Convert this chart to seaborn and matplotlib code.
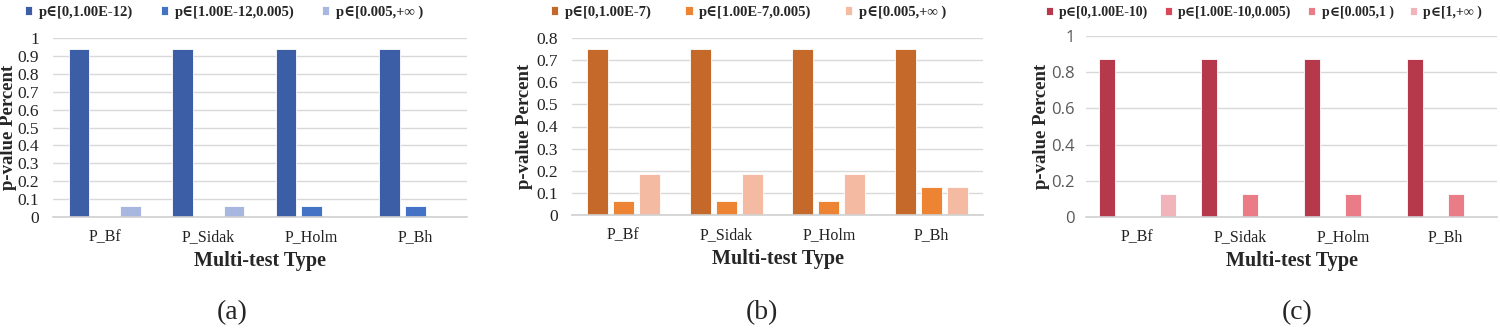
import numpy as np
import pandas as pd
import matplotlib
matplotlib.use("Agg")
import matplotlib.pyplot as plt
import seaborn as sns

# ---------------- data ----------------
methods = ["P_Bf", "P_Sidak", "P_Holm", "P_Bh"]

a_labels = ["p\u2208[0,1.00E-12)", "p\u2208[1.00E-12,0.005)", "p\u2208[0.005,+\u221e )"]
a_s1 = [0.9375, 0.9375, 0.9375, 0.9375]
a_s2 = [0.0, 0.0, 0.0625, 0.0625]
a_s3 = [0.0625, 0.0625, 0.0, 0.0]

b_labels = ["p\u2208[0,1.00E-7)", "p\u2208[1.00E-7,0.005)", "p\u2208[0.005,+\u221e )"]
b_s1 = [0.75, 0.75, 0.75, 0.75]
b_s2 = [0.0625, 0.0625, 0.0625, 0.125]
b_s3 = [0.1875, 0.1875, 0.1875, 0.125]

c_labels = ["p\u2208[0,1.00E-10)", "p\u2208[1.00E-10,0.005)", "p\u2208[0.005,1 )", "p\u2208[1,+\u221e )"]
c_s1 = [0.875, 0.875, 0.875, 0.875]
c_s2 = [0.0, 0.0, 0.0, 0.0]
c_s3 = [0.0, 0.125, 0.125, 0.125]
c_s4 = [0.125, 0.0, 0.0, 0.0]

a_colors = ["#3B5EA6", "#4472C4", "#A8B7E0"]
b_colors = ["#C5692A", "#ED8434", "#F4BAA2"]
c_colors = ["#B5394A", "#D9485A", "#E97C86", "#F0B4BA"]

yticks_a = [0, 0.1, 0.2, 0.3, 0.4, 0.5, 0.6, 0.7, 0.8, 0.9, 1]
yticks_b = [0, 0.1, 0.2, 0.3, 0.4, 0.5, 0.6, 0.7, 0.8]
yticks_c = [0, 0.2, 0.4, 0.6, 0.8, 1]


def long_df(labels, series):
    rows = []
    for lab, vals in zip(labels, series):
        for m, v in zip(methods, vals):
            rows.append({"method": m, "range": lab, "value": v})
    return pd.DataFrame(rows)


sns.set_theme(style="white")
plt.rcParams["font.family"] = ["Liberation Serif", "DejaVu Serif"]

W, H = 1500, 329
fig = plt.figure(figsize=(W / 100, H / 100), dpi=100)


def px_axes(left, right, top, bottom):
    return fig.add_axes([left / W, 1 - bottom / H, (right - left) / W, (bottom - top) / H])


serif_bold = dict(family=["Liberation Serif", "DejaVu Serif"], weight="bold")

panels = [
    dict(box=(53, 467, 38, 217), labels=a_labels, series=[a_s1, a_s2, a_s3], colors=a_colors,
         yticks=yticks_a, ylim=(0, 1), width=0.75, gap=0.2, yfont="serif", ylab_x=-0.087,
         leg_x=25, colsp=1.9, legsize=10.5, tag="(a)", tag_x=232),
    dict(box=(572, 983, 38, 215), labels=b_labels, series=[b_s1, b_s2, b_s3], colors=b_colors,
         yticks=yticks_b, ylim=(0, 0.8), width=0.76, gap=0.2, yfont="serif", ylab_x=-0.095,
         leg_x=551, colsp=2.3, legsize=10.5, tag="(b)", tag_x=762),
    dict(box=(1086, 1497, 36, 217), labels=c_labels, series=[c_s1, c_s2, c_s3, c_s4], colors=c_colors,
         yticks=yticks_c, ylim=(0, 1), width=0.8, gap=0.22, yfont="sans", ylab_x=-0.088,
         leg_x=1046, colsp=1.2, legsize=10, tag="(c)", tag_x=1297),
]

for p in panels:
    left, right, top, bottom = p["box"]
    ax = px_axes(left, right, top, bottom)
    df = long_df(p["labels"], p["series"])
    sns.barplot(data=df, x="method", y="value", hue="range", hue_order=p["labels"],
                palette=p["colors"], saturation=1, width=p["width"], gap=p["gap"], ax=ax,
                edgecolor="white", linewidth=0.6, errorbar=None, legend=True)
    ax.set_xlim(-0.5, 3.5)
    ax.set_ylim(*p["ylim"])
    ax.set_yticks(p["yticks"])
    ax.set_yticklabels([("%g" % t) for t in p["yticks"]])
    ax.grid(axis="y", color="#D9D9D9", linewidth=1.0)
    ax.set_axisbelow(True)
    for s in ["top", "right", "left"]:
        ax.spines[s].set_visible(False)
    ax.spines["bottom"].set_color("#D0D0D0")
    ax.spines["bottom"].set_linewidth(1.2)
    ax.tick_params(axis="both", length=0)
    ax.tick_params(axis="x", pad=9, labelsize=11.5, labelcolor="#222222")
    if p["yfont"] == "serif":
        ax.tick_params(axis="y", pad=10, labelsize=12.5, labelcolor="#222222")
    else:
        ax.tick_params(axis="y", pad=8, labelsize=12, labelcolor="#595959")
        for t in ax.get_yticklabels():
            t.set_fontfamily(["Open Sans", "DejaVu Sans"])
    ax.set_xlabel("Multi-test Type", fontsize=14.5, **serif_bold)
    ax.xaxis.set_label_coords(0.5, -0.19)
    ax.xaxis.label.set_va("top")
    ax.set_ylabel("p-value Percent", fontsize=13.5, **serif_bold)
    ax.yaxis.set_label_coords(p["ylab_x"], 0.5)

    handles, labs = ax.get_legend_handles_labels()
    ax.get_legend().remove()
    fig.legend(handles, labs, loc="center left", bbox_to_anchor=(p["leg_x"] / W, 1 - 12 / H),
               ncol=len(labs), frameon=False, handlelength=0.5, handleheight=0.5,
               handletextpad=0.45, columnspacing=p["colsp"], borderpad=0, borderaxespad=0,
               prop=dict(family=["Liberation Serif", "DejaVu Serif"], weight="bold",
                         size=p["legsize"]))

    fig.text(p["tag_x"] / W, 1 - 313 / H, p["tag"], ha="center", va="center",
             fontsize=20, family=["Liberation Serif", "DejaVu Serif"])

fig.savefig("out.png", dpi=100)
